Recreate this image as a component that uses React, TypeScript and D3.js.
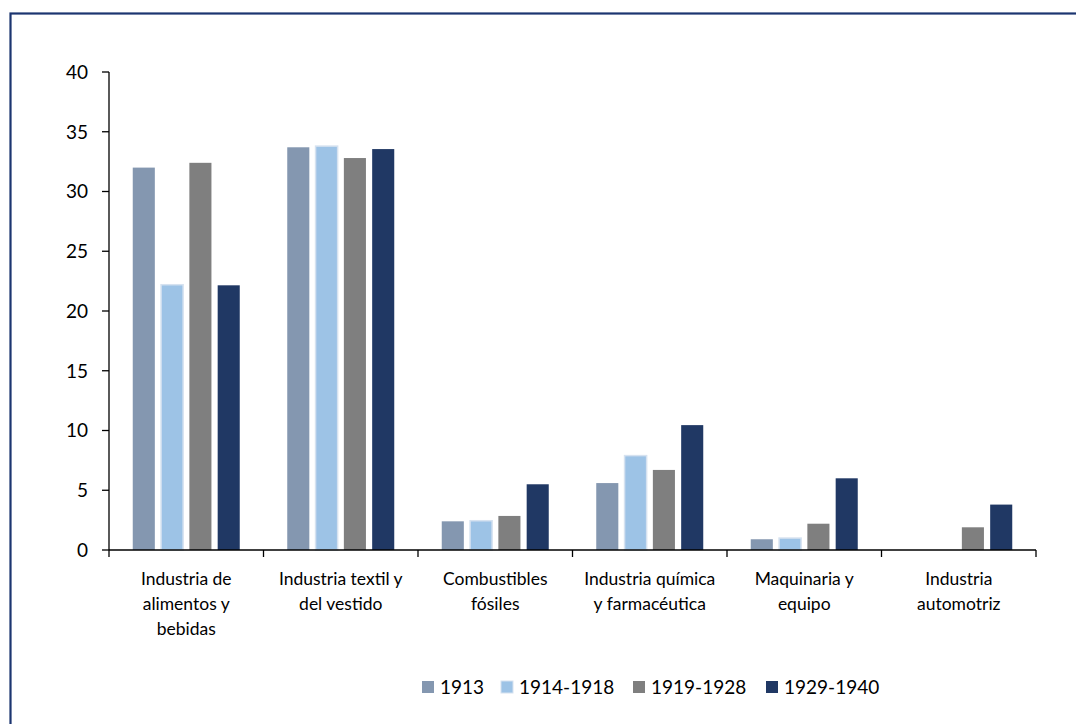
import React from "react";
import * as d3 from "d3";

const categories = [
  ["Industria de", "alimentos y", "bebidas"],
  ["Industria textil y", "del vestido"],
  ["Combustibles", "fósiles"],
  ["Industria química", "y farmacéutica"],
  ["Maquinaria y", "equipo"],
  ["Industria", "automotriz"],
];
const seriesNames = ["1913", "1914-1918", "1919-1928", "1929-1940"];
const s1913 = [32.0, 33.7, 2.4, 5.6, 0.9, 0];
const s1914 = [22.2, 33.8, 2.45, 7.9, 1.0, 0];
const s1919 = [32.4, 32.8, 2.85, 6.7, 2.2, 1.9];
const s1929 = [22.15, 33.55, 5.5, 10.45, 6.0, 3.8];
const seriesValues = [s1913, s1914, s1919, s1929];
const yTicks = [0, 5, 10, 15, 20, 25, 30, 35, 40];
const colors = ["#8497B0", "#9DC3E6", "#7F7F7F", "#203864"];

export default function App() {
  const W = 1076, H = 724;
  const left = 109, right = 1036, top = 72, bottom = 550;
  const x0 = d3.scaleBand<number>().domain(d3.range(categories.length)).range([left, right]).paddingInner(0).paddingOuter(0);
  const x1 = d3.scaleBand<number>().domain(d3.range(seriesNames.length)).range([0, 107]).paddingInner(0.22).paddingOuter(0);
  const y = d3.scaleLinear().domain([0, 40]).range([bottom, top]);
  const font = "Lato, 'Open Sans', sans-serif";
  const bw = x0.bandwidth();
  const boundaries = d3.range(categories.length + 1).map((i) => left + i * bw);
  const legendX = [422, 501, 633, 766];
  return (
    <svg width={W} height={H} style={{ position: "absolute", left: 0, top: 0, background: "#fff" }} fontFamily={font}>
      <rect x={10.5} y={13.5} width={W + 20} height={H + 20} fill="#fff" stroke="#1C3570" strokeWidth={2.2} />
      {seriesValues.map((vals, si) => (
        <g key={si}>
          {vals.map((v, ci) => {
            if (v <= 0) return null;
            const bx = x0(ci)! + (bw - 107) / 2 + x1(si)!;
            return (
              <rect key={ci} x={bx} y={y(v)} width={x1.bandwidth()} height={bottom - y(v)} fill={colors[si]}
                stroke={si === 1 ? "#D6E2F0" : "none"} strokeWidth={si === 1 ? 1.5 : 0} />
            );
          })}
        </g>
      ))}
      <line x1={left} x2={left} y1={top} y2={bottom} stroke="#000" strokeWidth={1.3} />
      {yTicks.map((t) => (
        <g key={t}>
          <line x1={left - 7} x2={left} y1={y(t)} y2={y(t)} stroke="#000" strokeWidth={1.3} />
          <text x={88} y={y(t)} dy="0.36em" textAnchor="end" fontSize={19} fill="#000">{t}</text>
        </g>
      ))}
      <line x1={left} x2={right} y1={bottom} y2={bottom} stroke="#000" strokeWidth={1.5} />
      {boundaries.map((bx, i) => (
        <line key={i} x1={bx} x2={bx} y1={bottom} y2={bottom + 7} stroke="#000" strokeWidth={1.3} />
      ))}
      {categories.map((lines, ci) => (
        <text key={ci} x={x0(ci)! + bw / 2} y={585} textAnchor="middle" fontSize={17.5} fill="#000">
          {lines.map((l, li) => (
            <tspan key={li} x={x0(ci)! + bw / 2} dy={li === 0 ? 0 : 25}>{l}</tspan>
          ))}
        </text>
      ))}
      {seriesNames.map((n, i) => (
        <g key={n}>
          <rect x={legendX[i]} y={681} width={12} height={12} fill={colors[i]} stroke={i === 1 ? "#D6E2F0" : "none"} strokeWidth={1} />
          <text x={legendX[i] + 18} y={687} dy="0.36em" fontSize={19} fill="#000">{n}</text>
        </g>
      ))}
    </svg>
  );
}
